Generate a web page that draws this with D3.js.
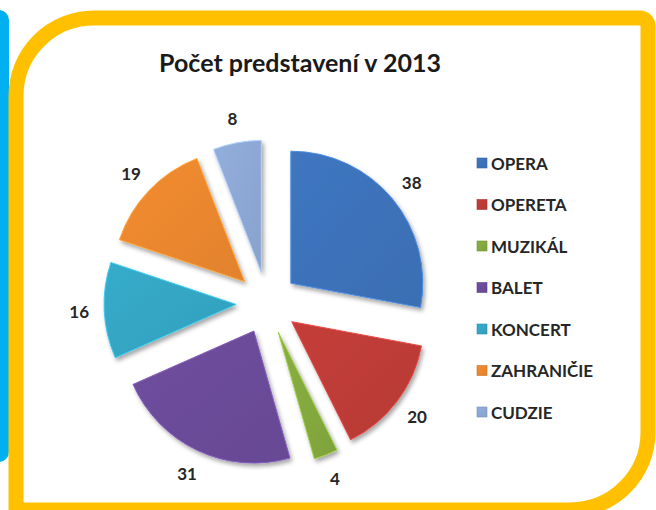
<!DOCTYPE html>
<html>
<head>
<meta charset="utf-8">
<script src="https://cdn.jsdelivr.net/npm/d3@7"></script>
<style>
  body { margin: 0; background: #fff; }
  svg { display: block; }
</style>
</head>
<body>
<svg id="chart" width="656" height="510"></svg>
<script>
// chart data
var categories = ["OPERA", "OPERETA", "MUZIKÁL", "BALET", "KONCERT", "ZAHRANIČIE", "CUDZIE"]
var values = [38, 20, 4, 31, 16, 19, 8]
var colors = ["#3C71B8", "#BC3B37", "#83A83E", "#6A4B98", "#33A5C2", "#E9862E", "#8CA7D3"]
var title = "Počet predstavení v 2013"

var width = 656, height = 510
var cx = 267, cy = 303
var radius = 132
var explode = 31
var labelRadius = 188

var svg = d3.select("#chart")
var defs = svg.append("defs")

// drop shadow like the excel bevel look
var f = defs.append("filter").attr("id", "shadow")
    .attr("x", "-20%").attr("y", "-20%").attr("width", "140%").attr("height", "140%")
f.append("feDropShadow").attr("dx", 2).attr("dy", 3)
    .attr("stdDeviation", 2).attr("flood-color", "#000").attr("flood-opacity", 0.35)

// one gradient per colour, slightly lighter top left
colors.forEach(function(c, i) {
    var g = defs.append("linearGradient").attr("id", "grad" + i)
        .attr("x1", "0%").attr("y1", "0%").attr("x2", "100%").attr("y2", "100%")
    g.append("stop").attr("offset", "0%").attr("stop-color", d3.color(c).brighter(0.12))
    g.append("stop").attr("offset", "100%").attr("stop-color", d3.color(c).darker(0.08))
})

// cyan strip on the left
svg.append("rect")
    .attr("x", -12).attr("y", 10)
    .attr("width", 21).attr("height", 452)
    .attr("rx", 10)
    .attr("fill", "#00B0F0")

// yellow frame
svg.append("path")
    .attr("d", "M16,512 L16,96 A78,78 0 0 1 94,18 L640,18 A8,8 0 0 1 648,26 L648,432 A78,78 0 0 1 570,510 L16,510 Z")
    .attr("fill", "#fff")
    .attr("stroke", "#FFC000")
    .attr("stroke-width", 15)
    .attr("stroke-linejoin", "miter")

// title
svg.append("text")
    .attr("x", 300).attr("y", 72)
    .attr("text-anchor", "middle")
    .style("font-family", "Lato, 'Open Sans', sans-serif")
    .style("font-weight", "bold")
    .style("font-size", "25px")
    .style("fill", "#1a1a1a")
    .text(title)

var pie = d3.pie().sort(null).value(function(d) { return d })
var data_ready = pie(values)

var arcGenerator = d3.arc().innerRadius(0).outerRadius(radius)

var g = svg.append("g").attr("transform", "translate(" + cx + "," + cy + ")")

g.selectAll("path.slice").data(data_ready).join("path")
    .attr("class", "slice")
    .attr("d", arcGenerator)
    .attr("transform", function(d) {
        var a = (d.startAngle + d.endAngle) / 2
        return "translate(" + (Math.sin(a) * explode) + "," + (-Math.cos(a) * explode) + ")"
    })
    .attr("fill", function(d, i) { return "url(#grad" + i + ")" })
    .attr("stroke", function(d, i) { return d3.color(colors[i]).brighter(0.6) })
    .attr("stroke-width", 1)
    .attr("filter", "url(#shadow)")

// value labels outside the slices
g.selectAll("text.val").data(data_ready).join("text")
    .attr("class", "val")
    .attr("x", function(d) { return Math.sin((d.startAngle + d.endAngle) / 2) * labelRadius })
    .attr("y", function(d) { return -Math.cos((d.startAngle + d.endAngle) / 2) * labelRadius })
    .attr("text-anchor", "middle")
    .attr("dominant-baseline", "central")
    .style("font-family", "Lato, 'Open Sans', sans-serif")
    .style("font-weight", "bold")
    .style("font-size", "17px")
    .style("fill", "#262626")
    .text(function(d) { return d.data })

// legend
var legend = svg.append("g").attr("transform", "translate(477,163)")
var rowH = 41.5

legend.selectAll("rect").data(categories).join("rect")
    .attr("x", 0)
    .attr("y", function(d, i) { return i * rowH - 5 })
    .attr("width", 10).attr("height", 10)
    .attr("fill", function(d, i) { return "url(#grad" + i + ")" })
    .attr("stroke", function(d, i) { return d3.color(colors[i]).darker(0.4) })
    .attr("stroke-width", 0.6)

legend.selectAll("text").data(categories).join("text")
    .attr("x", 14)
    .attr("y", function(d, i) { return i * rowH })
    .attr("dominant-baseline", "central")
    .style("font-family", "Lato, 'Open Sans', sans-serif")
    .style("font-weight", "bold")
    .style("font-size", "17px")
    .style("fill", "#262626")
    .text(function(d) { return d })
</script>
</body>
</html>
